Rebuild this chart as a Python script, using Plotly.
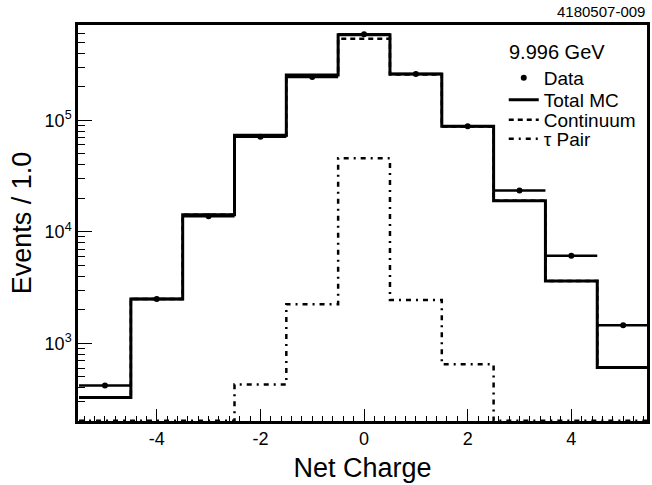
import numpy as np
import plotly.graph_objects as go

# ---- data ----
net_charge = [-5, -4, -3, -2, -1, 0, 1, 2, 3, 4, 5]
data_events = [419, 2490, 13800, 71000, 244000, 590000, 259000, 88300, 23400, 6080, 1450]
total_mc = [326, 2490, 14200, 73300, 254000, 583000, 259000, 88300, 19000, 3620, 608]
continuum = [326, 2490, 14200, 72900, 252000, 537000, 257000, 87700, 19000, 3620, 608]
tau_pair = [0, 0, 0, 428, 2240, 45500, 2440, 647, 0, 0, 0]
bin_width = 1.0

y_min, y_max = 201, 7.14e5
x_min, x_max = -5.52, 5.46


def steps(centers, vals):
    c = np.asarray(centers, float)
    v = np.asarray(vals, float)
    v = np.where(v <= y_min, y_min * 1.006, v)  # clip at axis floor like ROOT
    xe = np.append(c - bin_width / 2, c[-1] + bin_width / 2)
    ye = np.append(v, v[-1])
    return xe, ye


FONT = "Liberation Sans, Arial, sans-serif"
fig = go.Figure()

xc, yc = steps(net_charge, continuum)
fig.add_trace(go.Scatter(x=xc, y=yc, mode="lines", line_shape="hv",
                         line=dict(color="black", width=2.5, dash="5px,4px"),
                         name="Continuum", legend="legend3"))
xt, yt = steps(net_charge, tau_pair)
fig.add_trace(go.Scatter(x=xt, y=yt, mode="lines", line_shape="hv",
                         line=dict(color="black", width=2.5, dash="5px,5px,2px,5px"),
                         name="τ Pair", legend="legend4"))
xm, ym = steps(net_charge, total_mc)
fig.add_trace(go.Scatter(x=xm, y=ym, mode="lines", line_shape="hv",
                         line=dict(color="black", width=3),
                         name="Total MC", legend="legend2"))
fig.add_trace(go.Scatter(x=net_charge, y=data_events, mode="markers",
                         marker=dict(color="black", size=6),
                         error_x=dict(type="constant", value=bin_width / 2,
                                      color="black", thickness=2.5, width=0),
                         name="Data", legend="legend"))

# plot area in pixels: left 78, right 650, top 25, bottom 421
L, R, T, B = 78, 650, 25, 421


def px_x(p):
    return (p - L) / (R - L)


def px_y(p):
    return (B - p) / (B - T)


leg_common = dict(xanchor="left", yanchor="middle", bgcolor="rgba(0,0,0,0)",
                  borderwidth=0, font=dict(size=19), itemwidth=30)
fig.update_layout(
    width=652, height=485,
    margin=dict(l=L, r=652 - R, t=T, b=485 - B),
    paper_bgcolor="white", plot_bgcolor="white",
    font=dict(family=FONT, color="black", size=18),
    showlegend=True,
    legend=dict(x=px_x(506), y=px_y(78), **leg_common),
    legend2=dict(x=px_x(506), y=px_y(100), **leg_common),
    legend3=dict(x=px_x(506), y=px_y(120), **leg_common),
    legend4=dict(x=px_x(506), y=px_y(139), **leg_common),
    annotations=[
        dict(text="4180507-009", xref="paper", yref="paper",
             x=1.0, y=1.0, xanchor="right", yanchor="bottom",
             yshift=3, showarrow=False, font=dict(size=15)),
        dict(text="9.996 GeV", xref="paper", yref="paper",
             x=px_x(509), y=px_y(52), xanchor="left", yanchor="middle",
             showarrow=False, font=dict(size=20)),
    ],
)

fig.update_xaxes(
    range=[x_min, x_max], showgrid=False, zeroline=False,
    showline=True, linecolor="black", linewidth=2.5, mirror=True,
    ticks="inside", ticklen=12, tickwidth=1.2, tickcolor="black",
    tickvals=[-4, -2, 0, 2, 4], ticktext=["-4", "-2", "0", "2", "4"],
    tickfont=dict(size=18),
    minor=dict(ticks="inside", ticklen=5, dtick=0.2, tickcolor="black", showgrid=False),
    title=dict(text="Net Charge", font=dict(size=27), standoff=10),
)

major_y = [1e3, 1e4, 1e5]
minor_y = [m * 10 ** d for d in range(2, 6) for m in range(2, 10)]
fig.update_yaxes(
    type="log", range=[np.log10(y_min), np.log10(y_max)],
    showgrid=False, zeroline=False,
    showline=True, linecolor="black", linewidth=2.5, mirror=True,
    ticks="inside", ticklen=14, tickwidth=1.2, tickcolor="black",
    tickvals=major_y, ticktext=["10<sup>3</sup>", "10<sup>4</sup>", "10<sup>5</sup>"],
    tickfont=dict(size=18),
    minor=dict(ticks="inside", ticklen=7, tickvals=minor_y, tickcolor="black", showgrid=False),
    title=dict(text="Events / 1.0", font=dict(size=27), standoff=6),
)

fig.write_html("out.html", config={"displayModeBar": False},
               post_script="document.body.style.margin='0';")
